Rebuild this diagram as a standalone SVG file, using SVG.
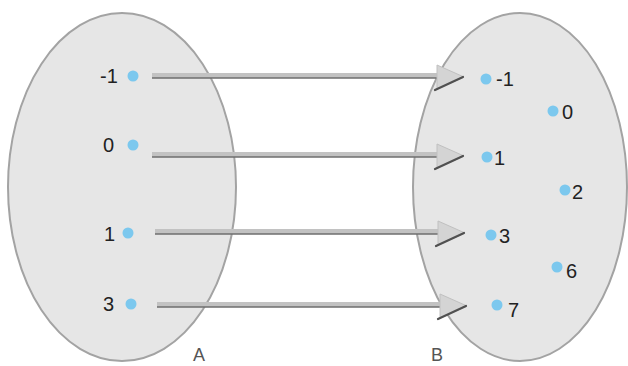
<svg xmlns="http://www.w3.org/2000/svg" width="628" height="366" viewBox="0 0 628 366">
<style>
.set{fill:#e6e6e6;stroke:#a3a3a3;stroke-width:2}
.dot{fill:#7cc8ee}
.num{font-family:"Liberation Sans",Arial,sans-serif;font-size:20px;fill:#222}
.lab{font-family:"Liberation Sans",Arial,sans-serif;font-size:18px;fill:#555}
.shaft{fill:#c2c2c2}
.shadow{stroke:#6e6e6e;stroke-width:1.5}
.head{fill:#d4d4d4;stroke:#c0c0c0;stroke-width:1}
.slash{stroke:#505050;stroke-width:2.2;stroke-linecap:round}
</style>
<rect width="628" height="366" fill="#ffffff"/>
<g id="setA">
<ellipse class="set" cx="122" cy="187" rx="114" ry="174"/>
<text class="lab" x="193" y="361">A</text>
</g>
<g id="setB">
<ellipse class="set" cx="520" cy="187" rx="107" ry="174"/>
<text class="lab" x="431" y="361">B</text>
</g>
<g id="a-m1"><circle class="dot" cx="133" cy="76" r="5.5"/><text class="num" x="100" y="83">-1</text></g>
<g id="a-0"><circle class="dot" cx="133" cy="145" r="5.5"/><text class="num" x="103" y="152">0</text></g>
<g id="a-1"><circle class="dot" cx="128" cy="233" r="5.5"/><text class="num" x="104" y="241">1</text></g>
<g id="a-3"><circle class="dot" cx="131" cy="304" r="5.5"/><text class="num" x="103" y="311">3</text></g>
<g id="b-m1"><circle class="dot" cx="486" cy="79" r="5.5"/><text class="num" x="496" y="86">-1</text></g>
<g id="b-0"><circle class="dot" cx="553" cy="111" r="5.5"/><text class="num" x="562" y="119">0</text></g>
<g id="b-1"><circle class="dot" cx="487" cy="157" r="5.5"/><text class="num" x="494" y="165">1</text></g>
<g id="b-2"><circle class="dot" cx="565" cy="190" r="5.5"/><text class="num" x="572" y="199">2</text></g>
<g id="b-3"><circle class="dot" cx="491" cy="235" r="5.5"/><text class="num" x="499" y="243">3</text></g>
<g id="b-6"><circle class="dot" cx="557" cy="267" r="5.5"/><text class="num" x="566" y="278">6</text></g>
<g id="b-7"><circle class="dot" cx="497" cy="305" r="5.5"/><text class="num" x="508" y="317">7</text></g>
<g id="connectors">
<g id="e1"><rect class="shaft" x="152" y="73" width="288" height="5"/><line class="shadow" x1="152" y1="78" x2="440" y2="78"/><polygon class="head" points="437,65 464,77 437,89"/><line class="slash" x1="435" y1="90" x2="463" y2="77"/></g>
<g id="e2"><rect class="shaft" x="152" y="152" width="288" height="5"/><line class="shadow" x1="152" y1="157" x2="440" y2="157"/><polygon class="head" points="437,144 464,156 437,168"/><line class="slash" x1="435" y1="169" x2="463" y2="156"/></g>
<g id="e3"><rect class="shaft" x="155" y="229" width="285" height="5"/><line class="shadow" x1="155" y1="234" x2="440" y2="234"/><polygon class="head" points="438,221 465,233 438,245"/><line class="slash" x1="436" y1="246" x2="464" y2="233"/></g>
<g id="e4"><rect class="shaft" x="157" y="302" width="285" height="5"/><line class="shadow" x1="157" y1="307" x2="442" y2="307"/><polygon class="head" points="440,294 467,306 440,318"/><line class="slash" x1="438" y1="319" x2="466" y2="306"/></g>
</g>
</svg>
